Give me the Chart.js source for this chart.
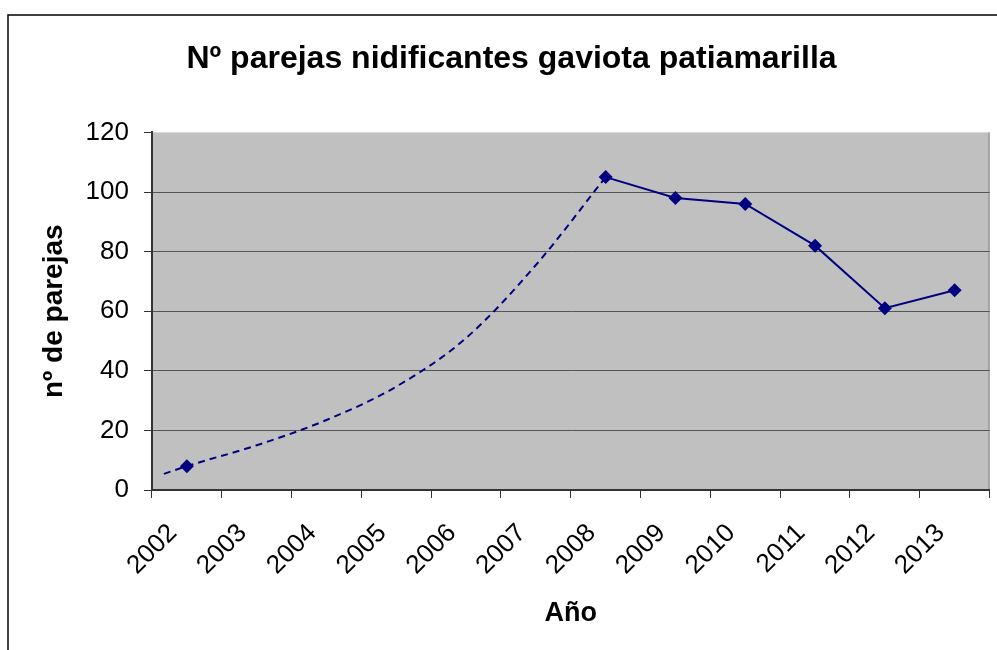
<!DOCTYPE html>
<html>
<head>
<meta charset="utf-8">
<script src="https://cdn.jsdelivr.net/npm/chart.js@4/dist/chart.umd.min.js"></script>
<style>
  body { margin: 0; background: #fff; }
  #wrap { width: 997px; height: 650px; }
</style>
</head>
<body>
<div id="wrap"><canvas id="grafico" width="997" height="650"></canvas></div>
<script>
// datos
const years = ['2002', '2003', '2004', '2005', '2006', '2007', '2008', '2009', '2010', '2011', '2012', '2013'];
const parejas = [8, null, null, null, null, null, 105, 98, 96, 82, 61, 67];
// linea de tendencia
const trendYears = [2001.67, 2002, 2003, 2004, 2005, 2006, 2007, 2008];
const trendValues = [5.4, 8, 15, 23.5, 34.7, 51, 75.5, 105];
const yTicks = [0, 20, 40, 60, 80, 100, 120];

const FONT = "'Liberation Sans', Arial, sans-serif";
const navy = '#000080';

// fondo gris del area de trazado y marco exterior
const fondo = {
  id: 'fondo',
  beforeDraw(chart) {
    const { ctx, chartArea: a } = chart;
    ctx.save();
    ctx.strokeStyle = '#000';
    ctx.lineWidth = 1.5;
    ctx.strokeRect(8, 15, 1200, 1000);
    ctx.fillStyle = '#c0c0c0';
    ctx.fillRect(a.left, a.top, a.right - a.left, a.bottom - a.top);
    ctx.strokeStyle = '#808080';
    ctx.lineWidth = 1;
    ctx.beginPath();
    ctx.moveTo(a.right - 0.5, a.top);
    ctx.lineTo(a.right - 0.5, a.bottom);
    ctx.stroke();
    ctx.restore();
  }
};

const trendPoints = trendYears.map((x, i) => ({ x: x, y: trendValues[i] }));

const chart = new Chart(document.getElementById('grafico'), {
  type: 'line',
  data: {
    labels: years,
    datasets: [{
      data: parejas,
      xAxisID: 'x',
      borderColor: navy,
      backgroundColor: navy,
      borderWidth: 2,
      pointStyle: 'rectRot',
      pointRadius: 7,
      pointBorderWidth: 0,
      spanGaps: false,
      order: 0
    }, {
      data: trendPoints,
      xAxisID: 'xt',
      borderColor: navy,
      borderWidth: 2,
      borderDash: [7, 5],
      pointRadius: 0,
      cubicInterpolationMode: 'monotone',
      order: 1
    }]
  },
  options: {
    responsive: false,
    animation: false,
    events: [],
    layout: { padding: { left: 30, right: 4, top: 20, bottom: 0 } },
    plugins: {
      legend: { display: false },
      tooltip: { enabled: false },
      title: {
        display: true,
        text: 'Nº parejas nidificantes gaviota patiamarilla',
        color: '#000',
        font: { family: FONT, size: 32, weight: 'bold' },
        padding: { top: 20, bottom: 54 }
      }
    },
    scales: {
      x: {
        type: 'category',
        offset: true,
        afterFit(s) { s.height = 160; },
        grid: { offset: true, drawOnChartArea: false, tickLength: 8, tickColor: '#333', color: '#333' },
        border: { color: '#333', width: 2 },
        ticks: {
          color: '#000',
          font: { family: FONT, size: 26 },
          minRotation: 45,
          maxRotation: 45,
          padding: 20,
          labelOffset: -14
        },
        title: {
          display: true,
          text: 'Año',
          color: '#000',
          font: { family: FONT, size: 27, weight: 'bold' },
          padding: { top: 0, bottom: 20 }
        }
      },
      xt: {
        type: 'linear',
        display: false,
        min: 2001.5,
        max: 2013.5
      },
      y: {
        min: 0,
        max: 120,
        afterFit(s) { s.width = 122; },
        afterBuildTicks(s) { s.ticks = yTicks.map(v => ({ value: v })); },
        grid: {
          color: ctx => (ctx.tick && ctx.tick.value === 120) ? 'rgba(0,0,0,0)' : '#555',
          tickColor: '#333',
          tickLength: 8,
          lineWidth: 1
        },
        border: { color: '#333', width: 2 },
        ticks: {
          color: '#000',
          font: { family: FONT, size: 26 },
          padding: 15
        },
        title: {
          display: true,
          text: 'nº de parejas',
          color: '#000',
          font: { family: FONT, size: 28, weight: 'bold' },
          padding: { top: 7, bottom: 0 }
        }
      }
    }
  },
  plugins: [fondo]
});
</script>
</body>
</html>
